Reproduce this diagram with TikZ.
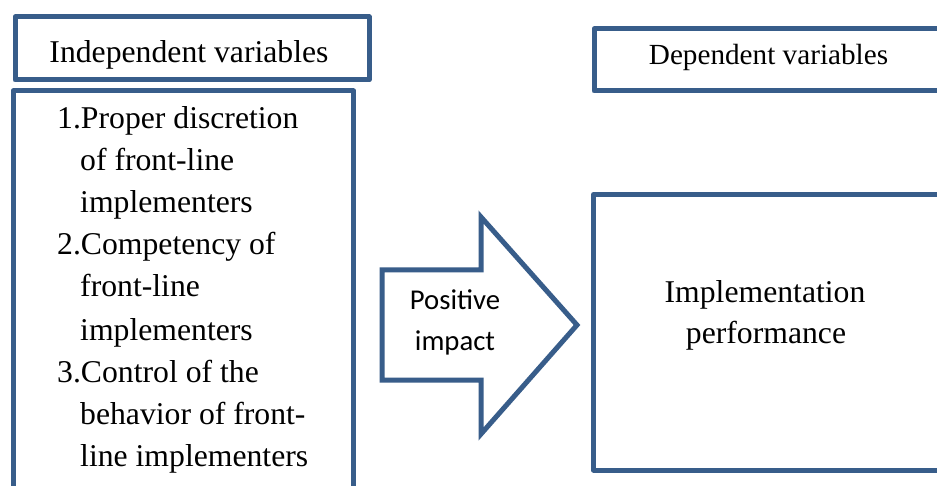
\documentclass[tikz,border=0pt]{standalone}
\usepackage{fontspec}
\setmainfont{Liberation Serif}
\newfontfamily\calibrifont{Carlito}
\definecolor{boxblue}{HTML}{385D8A}
\begin{document}
\begin{tikzpicture}[x=1pt,y=-1pt,
  box/.style={draw=boxblue, line width=5pt, line join=round, inner sep=0pt, anchor=north west},
  serif/.style={font=\fontsize{31.7}{38}\selectfont, inner sep=0pt},
  depfont/.style={font=\fontsize{29.2}{35}\selectfont, inner sep=0pt},
  sansfont/.style={font=\calibrifont\fontsize{28.7}{34}\selectfont, inner sep=0pt}]
\useasboundingbox (0,0) rectangle (937,486);
\fill[white] (0,0) rectangle (937,486);
\begin{scope}
\clip (0,0) rectangle (937,486);
% boxes
\node[box, minimum width=354pt, minimum height=63pt] (indep) at (12.5,14.5) {};
\node[box, minimum width=340.5pt, minimum height=441.5pt] (list) at (10.5,88.5) {};
\node[box, minimum width=358pt, minimum height=62pt] (dep) at (591.5,26.5) {};
\node[box, minimum width=354pt, minimum height=275.5pt] (perf) at (591,192) {};
% arrow
\draw[draw=boxblue, line width=5pt, line join=miter] (382,270) -- (481,270) -- (481,217) -- (577,325) -- (481,434) -- (481,380) -- (382,380) -- cycle;
\end{scope}
% texts
\node[serif, anchor=base] (indeptext) at (189,63) {Independent variables};
\node[depfont, anchor=base] (deptext) at (768.5,65) {Dependent variables};
\node[serif, anchor=base] (perf1) at (765,303) {Implementation};
\node[serif, anchor=base] (perf2) at (766,343) {performance};
\node[sansfont, anchor=base] (pos1) at (455,310) {Positive};
\node[sansfont, anchor=base] (pos2) at (455,350) {impact};
\foreach \yy/\xx/\tt [count=\i] in {
  129/57/{1.Proper discretion},
  171/80/{of front-line},
  213/80/{implementers},
  255/57/{2.Competency of},
  297/80/{front-line},
  340/80/{implementers},
  382/57/{3.Control of the},
  424/80/{behavior of front-},
  466/80/{line implementers}}
  \node[serif, anchor=base west] (line\i) at (\xx,\yy) {\tt};
\end{tikzpicture}
\end{document}
